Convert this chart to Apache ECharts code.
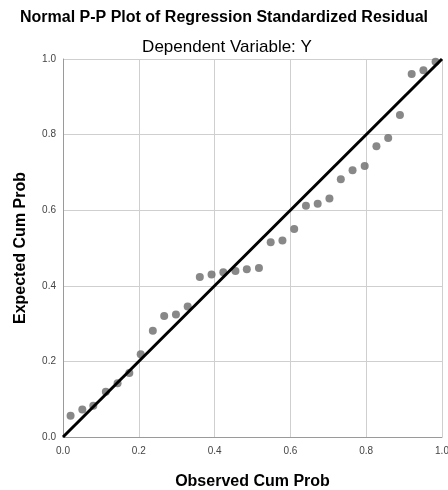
<!DOCTYPE html>
<html lang="en">
<head>
    <meta charset="UTF-8">
    <title>Normal P-P Plot</title>
    <script src="https://cdn.jsdelivr.net/npm/echarts@6/dist/echarts.min.js"></script>
    <style>
        html, body { margin: 0; padding: 0; background: #fff; }
        #chart { width: 448px; height: 490px; }
    </style>
</head>
<body>
    <div id="chart"></div>
    <script>
        // observed vs expected cumulative probabilities
        const observed = [0.020, 0.051, 0.080, 0.113, 0.144, 0.175, 0.205, 0.237,
                          0.267, 0.298, 0.329, 0.361, 0.392, 0.423, 0.455, 0.485,
                          0.517, 0.548, 0.579, 0.610, 0.641, 0.672, 0.703, 0.733,
                          0.764, 0.796, 0.827, 0.858, 0.889, 0.920, 0.951, 0.983];
        const expected = [0.056, 0.073, 0.083, 0.120, 0.142, 0.169, 0.219, 0.281,
                          0.320, 0.324, 0.345, 0.423, 0.430, 0.436, 0.439, 0.444,
                          0.447, 0.515, 0.520, 0.550, 0.612, 0.617, 0.631, 0.682,
                          0.706, 0.717, 0.769, 0.791, 0.852, 0.960, 0.970, 0.993];
        // diagonal reference line
        const refX = [0, 1];
        const refY = [0, 1];

        const font = 'Liberation Sans, Arial, sans-serif';
        const chart = echarts.init(document.getElementById('chart'));

        const axisCommon = {
            type: 'value',
            min: 0,
            max: 1,
            interval: 0.2,
            nameLocation: 'middle',
            nameTextStyle: { fontFamily: font, fontSize: 16, fontWeight: 'bold', color: '#000' },
            axisLine: { show: true, lineStyle: { color: '#9a9a9a', width: 1 } },
            axisTick: { show: false },
            splitLine: { show: true, lineStyle: { color: '#cfcfcf', width: 1 } },
            axisLabel: {
                fontFamily: font, fontSize: 10, color: '#444',
                formatter: v => v.toFixed(1)
            }
        };

        chart.setOption({
            animation: false,
            title: [
                {
                    text: 'Normal P-P Plot of Regression Standardized Residual',
                    left: 'center', top: 5,
                    textStyle: { fontFamily: font, fontSize: 16, fontWeight: 'bold', color: '#000' }
                },
                {
                    text: 'Dependent Variable: Y',
                    left: 222, top: 34, textAlign: 'center',
                    textStyle: { fontFamily: font, fontSize: 17, fontWeight: 'normal', color: '#000' }
                }
            ],
            grid: { left: 63, right: 6, top: 59, bottom: 53, outerBoundsMode: 'none', containLabel: false },
            xAxis: Object.assign({}, axisCommon, {
                name: 'Observed Cum Prob',
                nameGap: 37,
                axisLabel: Object.assign({}, axisCommon.axisLabel, { margin: 9 })
            }),
            yAxis: Object.assign({}, axisCommon, {
                name: 'Expected Cum Prob',
                nameGap: 34,
                axisLabel: Object.assign({}, axisCommon.axisLabel, { margin: 7 })
            }),
            series: [
                {
                    type: 'scatter',
                    data: observed.map((x, i) => [x, expected[i]]),
                    symbolSize: 8,
                    itemStyle: { color: '#6a6a6a' },
                    z: 3
                },
                {
                    type: 'line',
                    data: refX.map((x, i) => [x, refY[i]]),
                    showSymbol: false,
                    lineStyle: { color: '#000', width: 3 },
                    z: 4
                }
            ]
        });
    </script>
</body>
</html>
